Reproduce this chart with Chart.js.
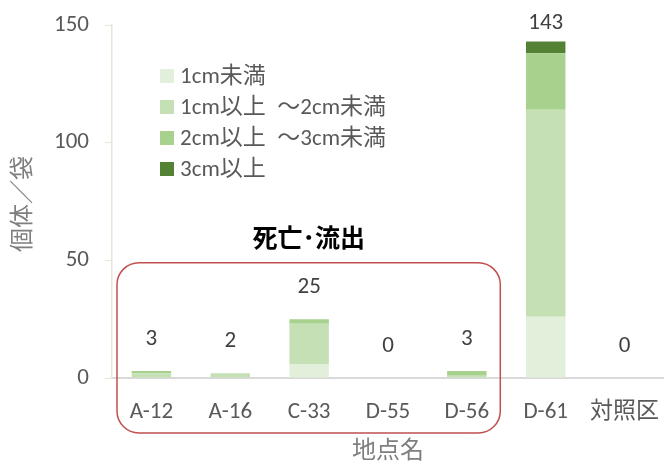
<!DOCTYPE html>
<html>
<head>
<meta charset="utf-8">
<script src="https://cdn.jsdelivr.net/npm/chart.js@4"></script>
<style>
  html, body { margin: 0; padding: 0; background: #fff; }
  #wrap { width: 664px; height: 463px; }
</style>
</head>
<body>
<div id="wrap"><canvas id="myBar" width="664" height="463"></canvas></div>
<script>
var ctx = document.getElementById('myBar').getContext('2d');

var sites = ['A-12', 'A-16', 'C-33', 'D-55', 'D-56', 'D-61', '対照区'];
var under1 = [0, 0, 6, 0, 0, 26, 0];
var from1to2 = [2, 2, 17, 0, 1, 88, 0];
var from2to3 = [1, 0, 2, 0, 2, 24, 0];
var over3 = [0, 0, 0, 0, 0, 5, 0];
var totals = [3, 2, 25, 0, 3, 143, 0];
var yTicks = [0, 50, 100, 150];

var seriesNames = ['1cm未満', '1cm以上\u2002～2cm未満', '2cm以上\u2002～3cm未満', '3cm以上'];
var seriesColors = ['#e2efda', '#c5e0b4', '#a9d18e', '#548235'];
var seriesData = [under1, from1to2, from2to3, over3];

var font = "Carlito, 'Noto Sans CJK JP', 'Noto Sans', sans-serif";

// extra drawing: legend inside plot, totals, axis titles, the red box
var extras = {
    id: 'extras',
    afterDraw: (chart) => {
        var c = chart.ctx;
        var x = chart.scales.x;
        var y = chart.scales.y;
        var area = chart.chartArea;
        c.save();

        // totals above the bars
        c.fillStyle = '#404040';
        c.font = '23px ' + font;
        c.textAlign = 'center';
        c.textBaseline = 'middle';
        totals.forEach((t, i) => {
            var py = Math.max(y.getPixelForValue(t) - 32, 23);
            c.fillText(String(t), x.getPixelForValue(i), py);
        });

        // legend
        c.textAlign = 'left';
        c.font = '23px ' + font;
        seriesNames.forEach((name, i) => {
            var ly = 76 + i * 31;
            c.fillStyle = seriesColors[i];
            c.fillRect(160, ly - 7, 14, 14);
            c.fillStyle = '#595959';
            c.fillText(name, 180, ly + 1);
        });

        // axis titles
        c.fillStyle = '#7f7f7f';
        c.font = '24px ' + font;
        c.textAlign = 'center';
        c.fillText('地点名', (area.left + area.right) / 2, 452);
        c.save();
        c.translate(24, 204);
        c.rotate(-Math.PI / 2);
        c.fillText('個体／袋', 0, 0);
        c.restore();

        // red rounded box around the first five sites
        var half = (x.getPixelForValue(1) - x.getPixelForValue(0)) / 2;
        var bx = x.getPixelForValue(0) - half + 5;
        var bw = x.getPixelForValue(4) + half - 6 - bx;
        var by = y.getPixelForValue(49);
        var bh = area.bottom + 55 - by;
        c.strokeStyle = '#c0504d';
        c.lineWidth = 1.5;
        c.beginPath();
        c.roundRect(bx, by, bw, bh, 22);
        c.stroke();

        c.fillStyle = '#000000';
        c.font = 'bold 25px ' + font;
        c.fillText('死亡･流出', bx + bw / 2, by - 22);
        c.restore();
    }
};

var myBarChart = new Chart(ctx, {
    type: 'bar',
    data: {
        labels: sites,
        datasets: seriesData.map((d, i) => ({
            label: seriesNames[i],
            data: d,
            backgroundColor: seriesColors[i],
            borderWidth: 0,
            barPercentage: 0.5,
            categoryPercentage: 1
        }))
    },
    options: {
        responsive: false,
        animation: false,
        layout: { padding: { top: 25, right: 0, bottom: 0, left: 0 } },
        plugins: {
            legend: { display: false },
            tooltip: { enabled: false },
            title: { display: false }
        },
        scales: {
            x: {
                stacked: true,
                grid: { display: false },
                border: { color: '#d9d9d9', width: 2 },
                ticks: { color: '#595959', font: { size: 23, family: font }, padding: 12 },
                afterFit: (s) => { s.height = 85; s.paddingLeft = 0; s.paddingRight = 0; }
            },
            y: {
                stacked: true,
                min: 0,
                max: 150,
                afterBuildTicks: (s) => { s.ticks = yTicks.map(v => ({ value: v })); },
                grid: { drawOnChartArea: false, tickLength: 7, color: '#e8e4d6' },
                border: { color: '#e8e4d6', width: 1.5 },
                ticks: { color: '#595959', font: { size: 23, family: font }, padding: 16 },
                afterFit: (s) => { s.width = 112; s.paddingTop = 0; s.paddingBottom = 0; }
            }
        }
    },
    plugins: [extras]
});
</script>
</body>
</html>
